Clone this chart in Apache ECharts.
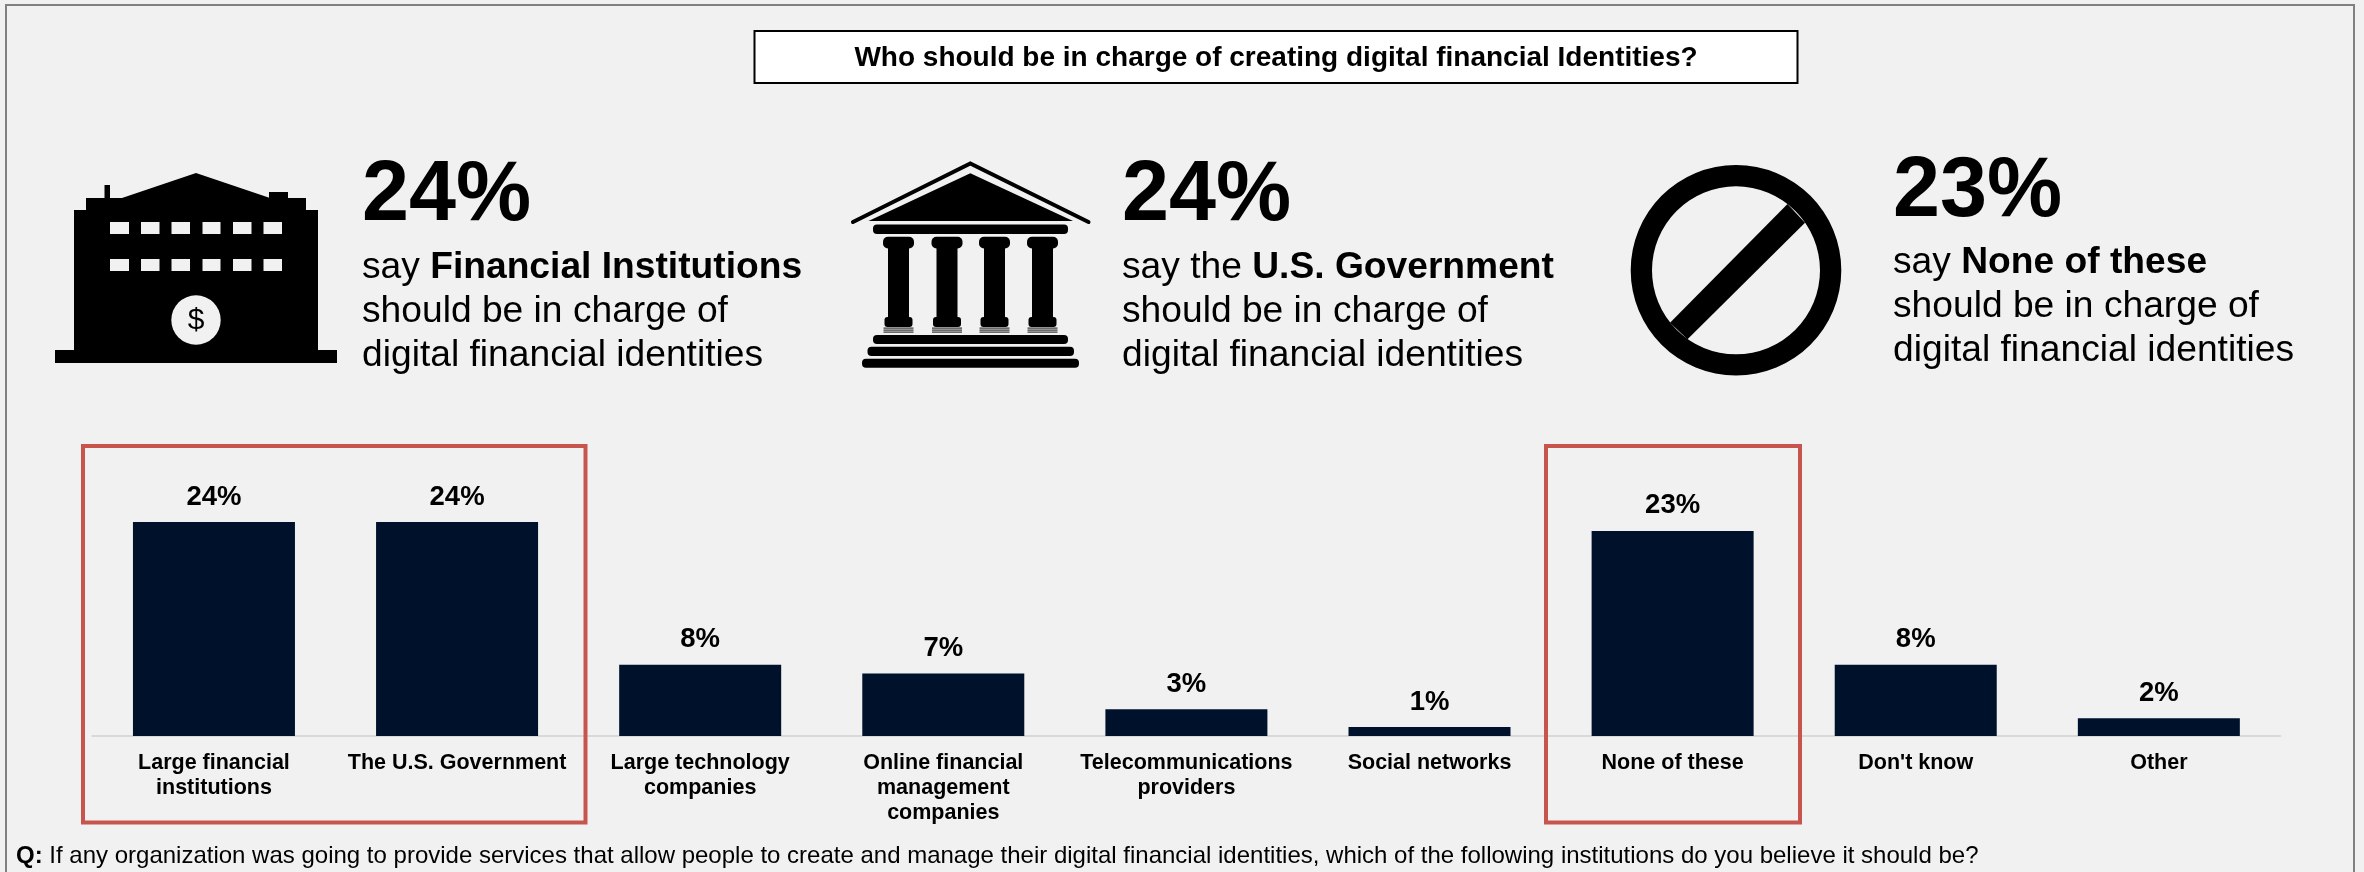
<!DOCTYPE html>
<html>
<head>
<meta charset="utf-8">
<style>
  html, body { margin: 0; padding: 0; background: #f1f1f1; }
  #chart { width: 2364px; height: 872px; }
</style>
<script src="https://cdn.jsdelivr.net/npm/echarts@6/dist/echarts.min.js"></script>
</head>
<body>
<div id="chart"></div>
<script>
// Survey results
const categories = [
  'Large financial\ninstitutions',
  'The U.S. Government',
  'Large technology\ncompanies',
  'Online financial\nmanagement\ncompanies',
  'Telecommunications\nproviders',
  'Social networks',
  'None of these',
  "Don't know",
  'Other'
];
const percentages = [24, 24, 8, 7, 3, 1, 23, 8, 2];

const chartTitle = 'Who should be in charge of creating digital financial Identities?';
const questionLead = 'Q:';
const questionText = 'If any organization was going to provide services that allow people to create and manage their digital financial identities, which of the following institutions do you believe it should be?';
const calloutEnding = ['should be in charge of', 'digital financial identities'];

const FONT = '"Liberation Sans", Arial, sans-serif';
const PAPER = '#f1f1f1';
const INK = '#000000';
const RED = '#c8544e';

// Text is placed by its vertical middle; this converts a baseline to that middle
const mid = (baseline, size) => baseline - 0.35 * size;

const rect = (x1, y1, x2, y2, fill, r) => ({
  type: 'rect', z: 5,
  shape: { x: x1, y: y1, width: x2 - x1, height: y2 - y1, r: r || 0 },
  style: { fill: fill || INK }
});
const poly = (points, fill) => ({ type: 'polygon', z: 5, shape: { points }, style: { fill: fill || INK } });

// Office building with a dollar badge
function buildingIcon() {
  const out = [
    rect(55, 350, 337, 363),
    rect(74, 210, 318, 350),
    rect(86, 198, 306, 210),
    poly([[122, 198], [196, 173], [270, 198]]),
    rect(104.5, 185, 110, 198),
    rect(269, 192, 288, 198)
  ];
  [[110, 129], [141, 159.5], [171.5, 190], [202.5, 220.5], [233, 251.5], [263.5, 282]].forEach(([a, b]) => {
    out.push(rect(a, 222, b, 234, PAPER), rect(a, 259, b, 271, PAPER));
  });
  out.push({ type: 'circle', z: 5, shape: { cx: 196, cy: 320, r: 24.7 }, style: { fill: PAPER } });
  out.push({
    type: 'text', z: 6, x: 196, y: 321,
    style: { text: '$', font: '30px ' + FONT, fill: INK, align: 'center', verticalAlign: 'middle' }
  });
  return out;
}

// Classical columned facade
function templeIcon() {
  const out = [
    {
      type: 'polyline', z: 5,
      shape: { points: [[853, 222], [970.3, 163.5], [1088.5, 222]] },
      style: { stroke: INK, lineWidth: 4, fill: 'none', lineCap: 'round' }
    },
    poly([[868.5, 221], [970.3, 173.3], [1073, 221]]),
    rect(873, 224.5, 1068, 234, INK, 4),
    rect(873, 335, 1068, 344, INK, 4),
    rect(867.5, 346.7, 1074, 356, INK, 4),
    rect(862, 358.7, 1079, 367.7, INK, 4)
  ];
  [898.5, 947, 994.5, 1042.5].forEach(c => {
    out.push(rect(c - 15.5, 236.7, c + 15.5, 248.5, INK, 5));
    out.push(rect(c - 10.5, 247, c + 10.5, 318));
    out.push(rect(c - 14, 317, c + 14, 327, INK, 3));
    [327.5, 329.5, 331.5].forEach(y => out.push(rect(c - 15, y, c + 15, y + 1.2, '#333333')));
  });
  return out;
}

// Prohibition sign
function noSignIcon() {
  return [
    {
      type: 'ring', z: 5,
      shape: { cx: 1736, cy: 270.3, r: 105.3, r0: 84 },
      style: { fill: INK }
    },
    poly([[1787.5, 204], [1805, 222.7], [1687.5, 339.3], [1670, 322.7]])
  ];
}

// One headline percentage with its three-line caption
function callout(x, headBase, captionBase, value, lead, strong) {
  const out = [{
    type: 'text', z: 6, x, y: mid(headBase, 84),
    style: { text: value + '%', font: 'bold 84.5px ' + FONT, fill: INK, align: 'left', verticalAlign: 'middle' }
  }];
  out.push({
    type: 'text', z: 6, x, y: mid(captionBase, 37),
    style: {
      text: '{n|' + lead + ' }{b|' + strong + '}',
      align: 'left', verticalAlign: 'middle',
      rich: {
        n: { font: '37.2px ' + FONT, fill: INK },
        b: { font: 'bold 37.2px ' + FONT, fill: INK }
      }
    }
  });
  calloutEnding.forEach((line, i) => out.push({
    type: 'text', z: 6, x, y: mid(captionBase + 44 * (i + 1), 37),
    style: { text: line, font: '37.2px ' + FONT, fill: INK, align: 'left', verticalAlign: 'middle' }
  }));
  return out;
}

const redBox = (x1, y1, x2, y2) => ({
  type: 'rect', z: 8,
  shape: { x: x1, y: y1, width: x2 - x1, height: y2 - y1 },
  style: { fill: 'none', stroke: RED, lineWidth: 4 }
});

const chart = echarts.init(document.getElementById('chart'), null, { renderer: 'canvas' });
chart.setOption({
  animation: false,
  backgroundColor: PAPER,
  grid: { left: 92.4, right: 83.6, top: 522, bottom: 136 },
  xAxis: {
    type: 'category',
    data: categories,
    axisTick: { show: false },
    axisLine: { lineStyle: { color: '#d9d9d9', width: 2 } },
    axisLabel: {
      interval: 0, margin: 15, color: INK,
      fontFamily: FONT, fontWeight: 'bold', fontSize: 21.5, lineHeight: 25
    }
  },
  yAxis: { type: 'value', min: 0, max: 24, show: false, splitLine: { show: false } },
  series: [{
    type: 'bar',
    data: percentages,
    barWidth: 162,
    itemStyle: { color: '#00112c' },
    label: {
      show: true, position: 'top', distance: 11, formatter: '{c}%',
      color: INK, fontFamily: FONT, fontWeight: 'bold', fontSize: 27.5
    }
  }],
  graphic: [
    // Outer frame
    { type: 'rect', z: 1, shape: { x: 6, y: 5, width: 2348, height: 880 }, style: { fill: 'none', stroke: '#808080', lineWidth: 2 } },
    // Heading box
    { type: 'rect', z: 5, shape: { x: 754.5, y: 31, width: 1043, height: 52 }, style: { fill: '#ffffff', stroke: INK, lineWidth: 2 } },
    {
      type: 'text', z: 6, x: 1276, y: 58,
      style: { text: chartTitle, font: 'bold 28px ' + FONT, fill: INK, align: 'center', verticalAlign: 'middle' }
    },
    ...buildingIcon(),
    ...templeIcon(),
    ...noSignIcon(),
    ...callout(362, 226, 281, percentages[0], 'say', 'Financial Institutions'),
    ...callout(1122, 226, 281, percentages[1], 'say the', 'U.S. Government'),
    ...callout(1893, 222, 276, percentages[6], 'say', 'None of these'),
    redBox(83, 446, 585.5, 822.5),
    redBox(1546, 446, 1800, 822.5),
    // Survey question footnote
    {
      type: 'text', z: 6, x: 16, y: mid(865, 24),
      style: {
        text: '{b|' + questionLead + '}{n| ' + questionText + '}',
        align: 'left', verticalAlign: 'middle',
        rich: {
          b: { font: 'bold 24px ' + FONT, fill: INK },
          n: { font: '24px ' + FONT, fill: INK }
        }
      }
    }
  ]
});
</script>
</body>
</html>
